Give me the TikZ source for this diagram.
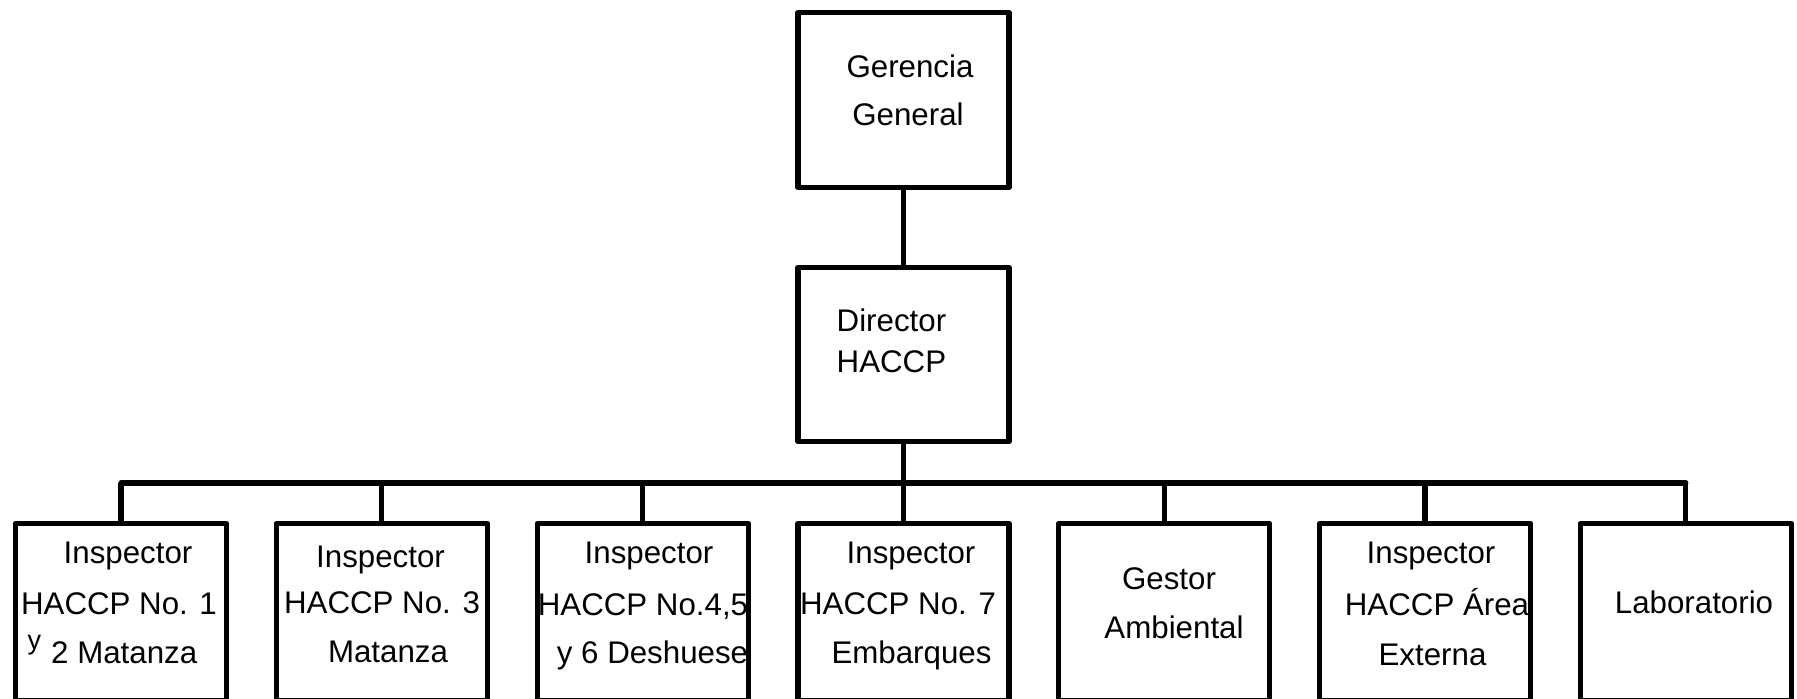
\documentclass[tikz,border=0pt]{standalone}
\usepackage{fontspec}
\setmainfont{Liberation Sans}
\begin{document}
\begin{tikzpicture}[x=0.1mm,y=-0.1mm,
  box/.style={draw=black, line width=0.52mm, line join=round, fill=none,
              inner sep=0pt, rectangle, minimum width=21.1mm},
  topbox/.style={box, minimum height=17.5mm},
  lowbox/.style={box, minimum height=17.75mm},
  link/.style={draw=black, line width=0.52mm},
  lbl/.style={anchor=base, inner sep=0pt, font=\fontsize{8.9}{10}\selectfont},
  lblw/.style={lbl, anchor=base west}]
\useasboundingbox (0,0) rectangle (1797,698);

% upper levels
\node[topbox] (ger) at (903.5,100) {};
\node[box, minimum height=17.4mm] (dir) at (903.5,354.5) {};

% lower level
\foreach \i/\cx in {1/121, 2/381.8, 3/642.6, 4/903.4, 5/1164.2, 6/1425, 7/1685.8}
  \node[lowbox] (b\i) at (\cx,612.25) {};

% bus line
\coordinate (bus) at (0,483);
\draw[link] (ger.south) -- (dir.north);
\draw[link] (dir.south) -- (dir.south |- bus);
\draw[link, line cap=round] (b1.north |- bus) -- (b7.north |- bus);
\foreach \i in {1,...,7}
  \draw[link] (b\i.north) -- (b\i.north |- bus);

% texts
\node[lbl] (g1) at (910,77) {Gerencia};
\node[lbl] (g2) at (908,125) {General};
\node[lblw] (d1) at (836,331) {Director};
\node[lblw] (d2) at (836,372) {HACCP};

\node[lbl] (t1a) at (128,563) {Inspector};
\node[lbl] (t1b) at (119,614) {HACCP No. 1};
\node[lblw] (t1c) at (27,663) {\raisebox{1.35mm}{\fontsize{7.7}{8}\selectfont y}\hspace{1.0mm}2 Matanza};

\node[lbl] (t2a) at (380.5,567) {Inspector};
\node[lbl] (t2b) at (382,613) {HACCP No. 3};
\node[lbl] (t2c) at (388,662) {Matanza};

\node[lbl] (t3a) at (649,563) {Inspector};
\node[lbl] (t3b) at (643,615) {HACCP No.4,5};
\node[lbl] (t3c) at (652.5,663) {y 6 Deshuese};

\node[lbl] (t4a) at (911,563) {Inspector};
\node[lbl] (t4b) at (898,614) {HACCP No. 7};
\node[lbl] (t4c) at (911.5,663) {Embarques};

\node[lbl] (t5a) at (1169,589) {Gestor};
\node[lbl] (t5b) at (1174,638) {Ambiental};

\node[lbl] (t6a) at (1431,563) {Inspector};
\node[lbl] (t6b) at (1437,615) {HACCP Área};
\node[lbl] (t6c) at (1432.5,665) {Externa};

\node[lbl] (t7a) at (1694,613) {Laboratorio};
\end{tikzpicture}
\end{document}
